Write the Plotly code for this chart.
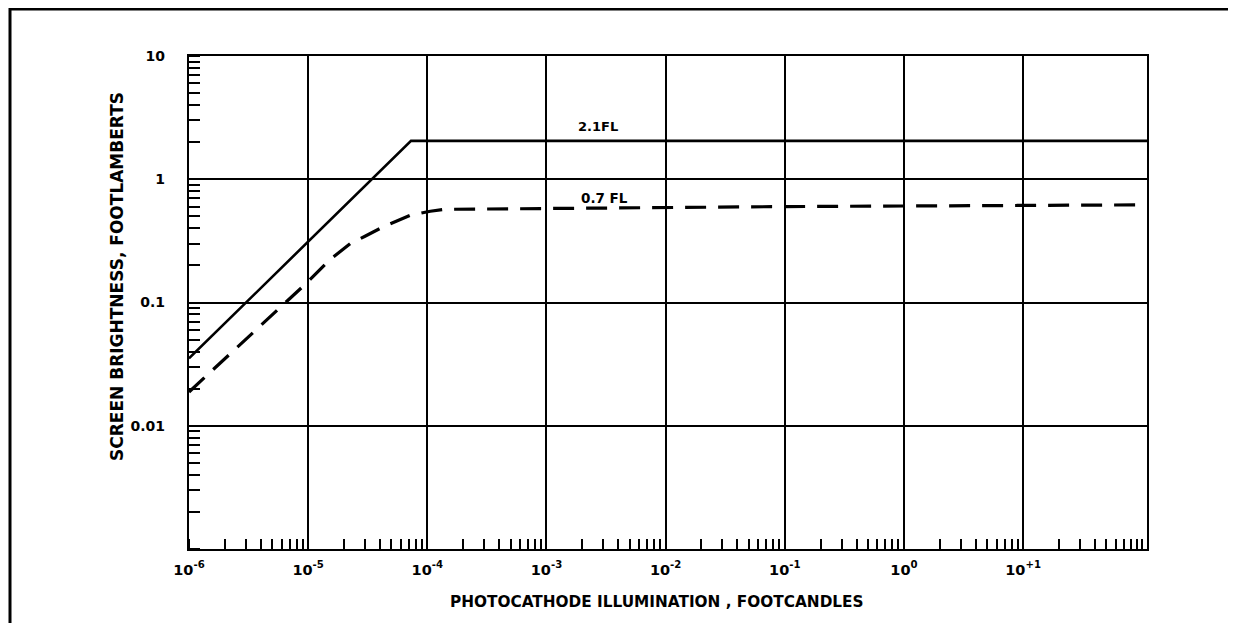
import plotly.graph_objects as go

# values (footcandles -> footlamberts)
illum_full = [1e-6, 7.3e-5, 110]
bright_full = [0.0352, 2.05, 2.05]

illum_low = [1e-6, 1e-5, 1.5e-5, 2.25e-5, 3e-5, 4.25e-5, 7.2e-5, 1.06e-4, 1.4e-4, 1e-3, 1e-1, 110]
bright_low = [0.0188, 0.148, 0.22, 0.30, 0.345, 0.41, 0.51, 0.55, 0.57, 0.58, 0.60, 0.62]

x_ticks = [1e-6, 1e-5, 1e-4, 1e-3, 1e-2, 1e-1, 1e0, 1e1]
x_labels = ['<b>10<sup>-6</sup></b>', '<b>10<sup>-5</sup></b>', '<b>10<sup>-4</sup></b>',
            '<b>10<sup>-3</sup></b>', '<b>10<sup>-2</sup></b>', '<b>10<sup>-1</sup></b>',
            '<b>10<sup>0</sup></b>', '<b>10<sup>+1</sup></b>']
y_ticks = [0.01, 0.1, 1, 10]
y_labels = ['<b>0.01</b>', '<b>0.1</b>', '<b>1</b>', '<b>10</b>']

FONT = 'DejaVu Sans'

fig = go.Figure()
fig.add_trace(go.Scatter(x=illum_full, y=bright_full, mode='lines', name='2.1FL',
                         line=dict(color='black', width=2.6)))
fig.add_trace(go.Scatter(x=illum_low, y=bright_low, mode='lines', name='0.7 FL',
                         line=dict(color='black', width=3.2, dash='21px,12px')))

fig.update_xaxes(type='log', range=[-6, 2.04], tickvals=x_ticks, ticktext=x_labels,
                 showgrid=True, gridcolor='black', gridwidth=1.8,
                 showline=True, linecolor='black', linewidth=2.2, mirror=True,
                 ticks='', zeroline=False, ticklabelstandoff=6,
                 minor=dict(ticks='inside', ticklen=10, tickwidth=1.8, tickcolor='black',
                            dtick='D1', showgrid=False),
                 tickfont=dict(family=FONT, size=14.5, color='black'))
fig.update_yaxes(type='log', range=[-3, 1], tickvals=y_ticks, ticktext=y_labels,
                 showgrid=True, gridcolor='black', gridwidth=1.8,
                 showline=True, linecolor='black', linewidth=2.2, mirror=True,
                 ticks='', zeroline=False, ticklabelstandoff=19,
                 minor=dict(ticks='inside', ticklen=11, tickwidth=1.8, tickcolor='black',
                            dtick='D1', showgrid=False),
                 tickfont=dict(family=FONT, size=14, color='black'))

fig.add_annotation(x=-2.566, y=0.432, xref='x', yref='y', text='<b>2.1FL</b>',
                   showarrow=False, font=dict(family=FONT, size=13, color='black'))
fig.add_annotation(x=-2.516, y=-0.152, xref='x', yref='y', text='<b>0.7 FL</b>',
                   showarrow=False, font=dict(family=FONT, size=13.5, color='black'))

# axis titles
fig.add_annotation(x=(657 - 189) / 958, y=(549 - 602) / 493, xref='paper', yref='paper',
                   xanchor='center', yanchor='middle',
                   text='<b>PHOTOCATHODE ILLUMINATION , FOOTCANDLES</b>', showarrow=False,
                   font=dict(family=FONT, size=15.3, color='black'))
fig.add_annotation(x=(117 - 189) / 958, y=(549 - 277) / 493, xref='paper', yref='paper',
                   xanchor='center', yanchor='middle',
                   text='<b>SCREEN BRIGHTNESS, FOOTLAMBERTS</b>', showarrow=False, textangle=-90,
                   font=dict(family=FONT, size=17, color='black'))

# outer frame of the figure
fig.add_shape(type='rect', xref='paper', yref='paper',
              x0=(10 - 189) / 958, x1=1.3, y0=-0.3, y1=(549 - 9) / 493,
              line=dict(color='black', width=3))

# page body adds an 8px offset, margins account for it
fig.update_layout(width=1236, height=623, showlegend=False,
                  margin=dict(l=181, r=97, t=48, b=82),
                  paper_bgcolor='white', plot_bgcolor='white',
                  font=dict(family=FONT, color='black'))

fig.write_html('out.html')
